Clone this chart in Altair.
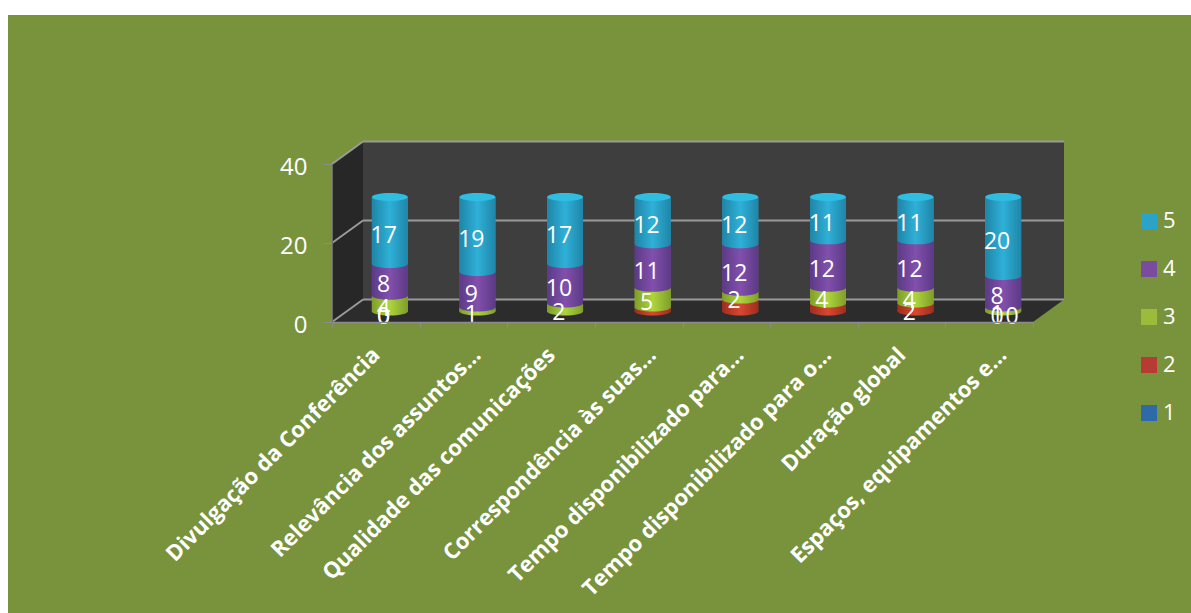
import altair as alt
import pandas as pd

categories = [
    "Divulgação da Conferência",
    "Relevância dos assuntos…",
    "Qualidade das comunicações",
    "Correspondência às suas…",
    "Tempo disponibilizado para…",
    "Tempo disponibilizado para o…",
    "Duração global",
    "Espaços, equipamentos e…",
]
series_1 = [0, 0, 0, 0, 0, 0, 0, 0]
series_2 = [0, 0, 0, 1, 3, 2, 2, 0]
series_3 = [4, 1, 2, 5, 2, 4, 4, 1]
series_4 = [8, 9, 10, 11, 12, 12, 12, 8]
series_5 = [17, 19, 17, 12, 12, 11, 11, 20]

# Data labels printed on the columns; None means the label is not shown.
labels_1 = [0, None, None, None, None, None, None, 0]
labels_2 = [0, None, None, None, None, None, 2, 0]
labels_3 = series_3
labels_4 = series_4
labels_5 = series_5

series_names = ["1", "2", "3", "4", "5"]
series_values = [series_1, series_2, series_3, series_4, series_5]
series_labels = [labels_1, labels_2, labels_3, labels_4, labels_5]
y_ticks = [0, 20, 40]

flat_colors = ["#2f6aa8", "#b83a34", "#9bbb3c", "#7a4ca0", "#2aa3c8"]
shades = [
    ("#1f4f86", "#3f82c8"),
    ("#a02c1e", "#d8482f"),
    ("#7f9e28", "#add43e"),
    ("#5c3a86", "#8150ad"),
    ("#1f85a8", "#2fb0d8"),
]
CAP = "#2fbde2"

# Oblique depth of the 3-D box, in category and value units.
DEPTH_X = 0.354
DEPTH_Y = 5.7
# Column placement inside the box.
COL_SHIFT = 0.16
COL_BASE = 2.66
COL_HALF = 0.205
COL_WIDTH_PX = 36
LABEL_SHIFT = 0.09
LABEL_LIFT = 1.27

WHITE = "#ffffff"
FONT = "Open Sans"
GREEN = "#78933c"
GRID = "#9a9a9a"

ELLIPSE = "M -1 0 A 1 0.22 0 1 1 1 0 A 1 0.22 0 1 1 -1 0 Z"

x_scale = alt.Scale(domain=[0, 8], nice=False, zero=False)
y_scale = alt.Scale(domain=[0, 40], nice=False, zero=False)

# Truncated category names sit a little further along the axis than the full ones.
truncated = [i for i, c in enumerate(categories) if c.endswith("…")]

x_axis = alt.Axis(
    values=list(range(9)),
    labelExpr="[" + ",".join(f"'{c}'" for c in categories) + ",''][datum.value]",
    labelOffset={
        "condition": {"test": f"indexof({truncated}, datum.value) >= 0", "value": 57},
        "value": 43.8,
    },
    labelAngle=315,
    labelAlign="right",
    labelBaseline="middle",
    labelColor=WHITE,
    labelFont=FONT,
    labelFontWeight="bold",
    labelFontSize=22,
    labelPadding=24,
    labelLimit=0,
    labelOverlap=False,
    labelBound=False,
    labelFlush=False,
    tickColor="#8c8c8c",
    tickSize=5,
    domainColor="#8c8c8c",
    domainWidth=1.5,
    grid=False,
    zindex=1,
)
y_axis = alt.Axis(
    values=y_ticks,
    labelColor=WHITE,
    labelFont=FONT,
    labelFontSize=24,
    labelPadding=16,
    labelOffset=3,
    tickColor="#8c8c8c",
    tickSize=9,
    domainColor="#6a6a6a",
    grid=False,
    zindex=1,
)

X = lambda f: alt.X(f"{f}:Q", scale=x_scale, title=None, axis=x_axis)
Y = lambda f: alt.Y(f"{f}:Q", scale=y_scale, title=None, axis=y_axis)


def gradient(left, mid):
    return alt.LinearGradient(
        gradient="linear", x1=0, x2=1, y1=0, y2=0,
        stops=[
            alt.GradientStop(offset=0, color=left),
            alt.GradientStop(offset=0.5, color=mid),
            alt.GradientStop(offset=1, color=left),
        ],
    )


# Stack the segments above the column base.
rows, text_rows = [], []
for i in range(len(categories)):
    level = 0
    for s, name in enumerate(series_names):
        v = series_values[s][i]
        cx = i + 0.5 + COL_SHIFT
        rows.append(dict(series=name, s=s, cx=cx, x0=cx - COL_HALF, x1=cx + COL_HALF,
                         y0=COL_BASE + level, y1=COL_BASE + level + v, value=v))
        shown = series_labels[s][i]
        if shown is not None:
            text_rows.append(dict(series=name, cat=i,
                                  x=i + 0.5 + LABEL_SHIFT,
                                  y=level + v / 2 + LABEL_LIFT,
                                  text=str(shown)))
        level += v
segments = pd.DataFrame(rows)
texts = pd.DataFrame(text_rows)

backdrop = alt.Chart(pd.DataFrame({"a": [0]})).mark_rect(color=GREEN).encode(
    x=alt.value(-324), x2=alt.value(860), y=alt.value(-149), y2=alt.value(450)
)

back_wall = alt.Chart(pd.DataFrame(
    {"x": [DEPTH_X], "x2": [8 + DEPTH_X], "y": [DEPTH_Y], "y2": [40 + DEPTH_Y]}
)).mark_rect(color="#3e3e3e").encode(x=X("x"), x2="x2", y=Y("y"), y2="y2")

left_wall = alt.Chart(pd.DataFrame(
    {"x": [0, DEPTH_X], "y": [0, DEPTH_Y], "y2": [40, 40 + DEPTH_Y]}
)).mark_area(color="#272727", opacity=1).encode(x=X("x"), y=Y("y"), y2="y2")

floor = alt.Chart(pd.DataFrame({
    "x": [0, DEPTH_X, 8, 8 + DEPTH_X],
    "y": [0, 0, 0, DEPTH_Y],
    "y2": [0, DEPTH_Y, DEPTH_Y, DEPTH_Y],
})).mark_area(color="#2c2c2c", opacity=1).encode(x=X("x"), y=Y("y"), y2="y2")

grid_df = pd.DataFrame({
    "x": [DEPTH_X for _ in y_ticks],
    "x2": [8 + DEPTH_X for _ in y_ticks],
    "y": [t + DEPTH_Y for t in y_ticks],
})
grid = alt.Chart(grid_df).mark_rule(color=GRID, strokeWidth=2).encode(
    x=X("x"), x2="x2", y=Y("y")
)
diag_df = pd.DataFrame({
    "x": [0 for _ in y_ticks],
    "x2": [DEPTH_X for _ in y_ticks],
    "y": y_ticks,
    "y2": [t + DEPTH_Y for t in y_ticks],
})
diagonals = alt.Chart(diag_df).mark_rule(color=GRID, strokeWidth=2).encode(
    x=X("x"), x2="x2", y=Y("y"), y2="y2"
)

# Flat base of each column: carries the series colour and the legend.
base = alt.Chart(segments).mark_rect().encode(
    x=X("x0"),
    x2="x1",
    y=Y("y0"),
    y2="y1",
    color=alt.Color(
        "series:N",
        scale=alt.Scale(domain=series_names[::-1], range=flat_colors[::-1]),
        legend=alt.Legend(
            title=None, orient="none", legendX=806, legendY=46,
            symbolType="square", symbolSize=256, symbolStrokeWidth=0,
            labelColor=WHITE, labelFont=FONT, labelFontSize=22,
            labelOffset=3, rowPadding=26, labelOverlap=False,
        ),
    ),
)

layers = [backdrop, back_wall, left_wall, floor, grid, diagonals, base]

# Shaded cylinder bodies, bottom segment first so each one's rim overlaps the one below.
for s, (edge, mid) in enumerate(shades):
    fill = gradient(edge, mid)
    part = segments[(segments.s == s) & (segments.value > 0)]
    if part.empty:
        continue
    layers.append(
        alt.Chart(part).mark_point(
            shape=ELLIPSE, size=COL_WIDTH_PX ** 2, filled=True, fill=fill,
            opacity=1, strokeWidth=0
        ).encode(x=X("cx"), y=Y("y0"))
    )
    layers.append(
        alt.Chart(part).mark_rect(fill=fill).encode(x=X("x0"), x2="x1", y=Y("y0"), y2="y1")
    )

# Lighter lid on top of each column.
tops = segments[segments.s == 4]
layers.append(
    alt.Chart(tops).mark_point(
        shape=ELLIPSE, size=COL_WIDTH_PX ** 2, filled=True, fill=CAP,
        opacity=1, strokeWidth=0
    ).encode(x=X("cx"), y=Y("y1"))
)

# Data labels; the zero of series 1 on the last column sits beside the others.
last = len(categories) - 1
plain = texts[~((texts.series == "1") & (texts.cat == last))]
moved = texts[(texts.series == "1") & (texts.cat == last)]
text_style = dict(color=WHITE, font=FONT, fontSize=23, align="center", baseline="middle")
layers.append(alt.Chart(plain).mark_text(**text_style).encode(x=X("x"), y=Y("y"), text="text:N"))
layers.append(alt.Chart(moved).mark_text(dx=15, **text_style).encode(x=X("x"), y=Y("y"), text="text:N"))

chart = alt.layer(*layers).properties(
    width=701,
    height=158,
    padding={"left": 332, "top": 164, "right": 158, "bottom": 291},
    autosize=alt.AutoSizeParams(type="none"),
    background="#ffffff",
).configure_view(stroke=None)

chart.save("out.html", embed_options={"renderer": "svg", "actions": False})
